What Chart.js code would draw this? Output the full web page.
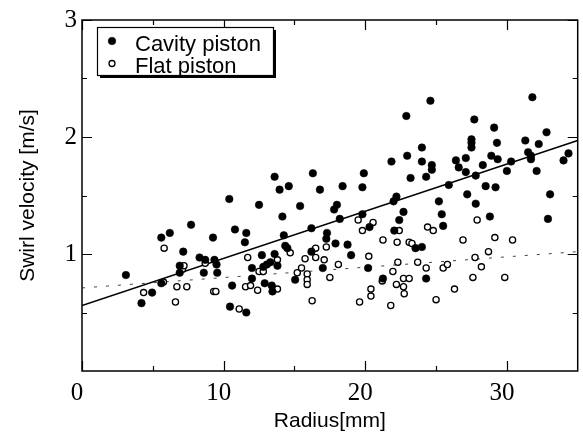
<!DOCTYPE html>
<html>
<head>
<meta charset="utf-8">
<script src="https://cdn.jsdelivr.net/npm/chart.js@4/dist/chart.umd.min.js"></script>
<style>
  html, body { margin: 0; padding: 0; background: #fff; }
  canvas { display: block; }
</style>
</head>
<body>
<canvas id="swirlChart" width="583" height="434"></canvas>
<script>
// Valores (radio en mm, velocidad en m/s)
const cavityRadius = [3.1, 4.2, 4.95, 5.6, 5.6, 6.2, 6.9, 6.9, 7.15, 7.7, 8.3, 8.7, 8.6, 9.25, 9.35, 9.5, 9.55,
  10.4, 10.45, 10.6, 10.8, 11.5, 11.6, 11.6, 12.0, 12.0, 12.5, 12.7, 12.8, 12.9, 13.05, 13.3, 13.4, 13.45,
  13.6, 13.6, 13.8, 13.95, 14.15, 14.25, 14.35, 14.5, 14.6, 15.05, 15.4, 16.2, 16.2, 16.3, 16.8, 17.0,
  17.3, 17.25, 17.8, 18.0, 17.9, 18.2, 18.4, 18.75, 19.0, 19.8, 19.9, 19.8, 20.2, 20.3, 21.25, 21.85,
  22.0, 22.2, 22.05, 22.4, 22.7, 22.9, 22.96, 23.2, 23.55, 24.0, 24.0, 24.0, 24.3, 24.3, 24.6, 24.7,
  24.7, 25.2, 25.4, 25.5, 25.9, 26.4, 26.6, 27.1, 27.1, 27.2, 27.5, 27.5, 27.5, 27.7, 27.8, 27.8, 28.3,
  28.5, 28.8, 28.9, 29.1, 29.2, 29.3, 29.35, 30.0, 30.3, 31.3, 31.5, 31.7, 31.7, 31.8, 32.1, 32.25,
  32.8, 32.9, 33.05, 34.0, 34.35];
const cavityVelocity = [0.82, 0.58, 0.67, 0.75, 1.14, 1.18, 0.90, 0.84, 1.02, 1.25, 0.97, 0.95, 0.84, 1.14, 0.95, 0.91, 0.84,
  1.47, 0.55, 0.73, 1.21, 1.10, 1.18, 0.50, 0.88, 0.79, 1.42, 0.99, 0.89, 0.75, 0.91, 0.93, 0.73, 0.68,
  1.00, 1.66, 0.90, 1.55, 1.32, 1.16, 1.07, 1.05, 1.58, 0.78, 1.41, 1.22, 1.02, 1.69, 1.55, 0.88,
  1.18, 1.13, 1.38, 1.42, 1.09, 1.30, 1.58, 1.08, 0.99, 1.57, 1.69, 1.34, 0.88, 1.23, 0.79, 1.79,
  1.45, 1.49, 1.20, 1.29, 1.36, 2.18, 1.84, 1.65, 1.05, 1.06, 1.91, 1.79, 1.66, 0.79, 2.31, 1.76,
  1.72, 1.45, 1.34, 1.24, 1.59, 1.80, 1.74, 1.82, 1.70, 1.51, 1.98, 1.95, 1.91, 2.15, 1.67, 1.43, 1.76,
  1.58, 1.32, 1.84, 2.08, 1.57, 1.95, 1.81, 1.71, 1.79, 1.97, 1.87, 1.84, 1.81, 2.34, 1.71, 1.94,
  2.04, 1.30, 1.51, 1.80, 1.86];

const flatRadius = [4.35, 5.75, 5.8, 6.6, 6.7, 7.1, 7.2, 7.4, 8.7, 9.3, 9.45, 11.1, 11.55, 11.7, 11.9, 12.4,
  12.5, 12.8, 13.8, 13.8, 14.7, 15.2, 15.5, 15.75, 15.9, 15.9, 15.9, 16.25, 16.5, 16.5, 17.1, 17.25, 17.5,
  18.1, 19.5, 19.6, 19.8, 20.25, 20.4, 20.4, 20.55, 21.2, 21.25, 21.8, 21.95, 22.2, 22.25, 22.3, 22.4,
  22.7, 22.7, 22.75, 23.1, 23.1, 23.3, 23.7, 24.3, 24.4, 24.8, 25.0, 25.5, 25.8, 26.3, 26.9, 27.6,
  27.75, 27.9, 28.2, 28.7, 29.15, 29.85, 30.4];
const flatVelocity = [0.67, 0.76, 1.05, 0.59, 0.72, 0.87, 0.90, 0.72, 0.92, 0.68, 0.68, 0.53, 0.72, 0.97, 0.73, 0.69,
  0.85, 0.85, 0.95, 0.70, 1.01, 0.84, 0.88, 0.96, 0.83, 0.78, 0.74, 0.60, 1.05, 0.97, 0.95, 1.06, 0.80,
  0.91, 1.29, 0.59, 1.20, 0.98, 0.70, 0.64, 1.27, 0.77, 1.12, 0.56, 0.85, 0.74, 1.10, 0.93, 1.20,
  0.79, 0.72, 0.66, 1.10, 0.79, 1.09, 0.93, 0.88, 1.23, 1.20, 0.61, 0.88, 0.91, 0.70, 1.12, 0.80,
  0.97, 1.29, 0.89, 1.02, 1.14, 0.80, 1.12];

// Rectas de ajuste (extremos)
const fitRadius = [0, 35];
const cavityFit = [0.56, 1.97];
const flatFit = [0.71, 1.02];

// Marcas de los ejes
const xTickLabels = [0, 10, 20, 30];
const xMinorTicks = [5, 15, 25];
const yTickLabels = [1, 2, 3];
const yMinorTicks = [0.5, 1.5, 2.5];

const legendLabels = ['Cavity piston', 'Flat piston'];

function toPoints(xs, ys) {
  return xs.map((x, i) => ({ x: x, y: ys[i] }));
}

// Marco completo con marcas hacia dentro en los cuatro lados
const framePlugin = {
  id: 'frame',
  afterDraw(chart) {
    const ctx = chart.ctx;
    const a = chart.chartArea;
    const xs = chart.scales.x, ys = chart.scales.y;
    ctx.save();
    ctx.strokeStyle = '#000';
    ctx.lineWidth = 1.5;
    ctx.strokeRect(a.left, a.top, a.right - a.left, a.bottom - a.top);
    ctx.lineWidth = 1.2;
    ctx.beginPath();
    const xMarks = xTickLabels.map(v => [v, 10]).concat(xMinorTicks.map(v => [v, 5]));
    xMarks.forEach(([v, len]) => {
      const px = Math.round(xs.getPixelForValue(v)) + 0.5;
      ctx.moveTo(px, a.bottom); ctx.lineTo(px, a.bottom - len);
      ctx.moveTo(px, a.top); ctx.lineTo(px, a.top + len);
    });
    const yMarks = yTickLabels.map(v => [v, 10]).concat(yMinorTicks.map(v => [v, 5]));
    yMarks.forEach(([v, len]) => {
      const py = Math.round(ys.getPixelForValue(v)) + 0.5;
      ctx.moveTo(a.left, py); ctx.lineTo(a.left + len, py);
      ctx.moveTo(a.right, py); ctx.lineTo(a.right - len, py);
    });
    ctx.stroke();
    ctx.restore();
  }
};

// Leyenda con recuadro y sombra dentro del área del gráfico
const boxLegend = {
  id: 'boxLegend',
  afterDraw(chart) {
    const ctx = chart.ctx;
    const a = chart.chartArea;
    const bx = a.left + 15, by = a.top + 7, bw = 176, bh = 48;
    ctx.save();
    ctx.fillStyle = '#000';
    ctx.fillRect(bx + 3, by + 3, bw, bh);
    ctx.fillStyle = '#fff';
    ctx.fillRect(bx, by, bw, bh);
    ctx.strokeStyle = '#000';
    ctx.lineWidth = 1.2;
    ctx.strokeRect(bx + 0.5, by + 0.5, bw, bh);

    ctx.font = '22px "Liberation Sans", Arial, sans-serif';
    ctx.textBaseline = 'alphabetic';
    ctx.fillStyle = '#000';
    legendLabels.forEach((txt, i) => {
      const ds = chart.data.datasets[i];
      const cy = by + 14 + i * 22.5;
      ctx.beginPath();
      ctx.arc(bx + 15, cy, i === 0 ? 3.8 : 3.0, 0, Math.PI * 2);
      ctx.fillStyle = ds.backgroundColor;
      ctx.fill();
      ctx.lineWidth = ds.borderWidth;
      ctx.strokeStyle = ds.borderColor;
      ctx.stroke();
      ctx.fillStyle = '#000';
      ctx.fillText(txt, bx + 38, cy + 9.5);
    });
    ctx.restore();
  }
};

const ctxSwirl = document.getElementById('swirlChart');
new Chart(ctxSwirl, {
  type: 'scatter',
  data: {
    datasets: [
      {
        label: legendLabels[0],
        data: toPoints(cavityRadius, cavityVelocity),
        pointRadius: 3.8,
        backgroundColor: '#000',
        borderColor: '#000',
        borderWidth: 0.5
      },
      {
        label: legendLabels[1],
        data: toPoints(flatRadius, flatVelocity),
        pointRadius: 3.1,
        backgroundColor: '#fff',
        borderColor: '#000',
        borderWidth: 1.3
      },
      {
        type: 'line',
        data: toPoints(fitRadius, cavityFit),
        borderColor: '#000',
        borderWidth: 1.5,
        pointRadius: 0,
        fill: false
      },
      {
        type: 'line',
        data: toPoints(fitRadius, flatFit),
        borderColor: '#444',
        borderWidth: 1,
        borderDash: [3, 9],
        pointRadius: 0,
        fill: false
      }
    ]
  },
  options: {
    responsive: false,
    devicePixelRatio: 1,
    animation: false,
    layout: { padding: { left: 0, right: 5, top: 18, bottom: 0 } },
    plugins: {
      legend: { display: false },
      tooltip: { enabled: false }
    },
    scales: {
      x: {
        type: 'linear',
        min: 0,
        max: 35,
        grid: { display: false, drawTicks: false },
        border: { display: false },
        afterBuildTicks: s => { s.ticks = xTickLabels.map(v => ({ value: v })); },
        afterFit: s => { s.height = 63; },
        ticks: {
          padding: 7,
          labelOffset: -5,
          color: '#000',
          font: { family: '"Liberation Serif", "Times New Roman", serif', size: 25 }
        },
        title: {
          display: true,
          text: 'Radius[mm]',
          color: '#000',
          padding: { top: 0, bottom: 0 },
          font: { family: '"Liberation Sans", Arial, sans-serif', size: 21 }
        }
      },
      y: {
        min: 0,
        max: 3,
        grid: { display: false, drawTicks: false },
        border: { display: false },
        afterBuildTicks: s => { s.ticks = yTickLabels.map(v => ({ value: v })); },
        afterFit: s => { s.width = 82; },
        ticks: {
          padding: 5,
          color: '#000',
          font: { family: '"Liberation Serif", "Times New Roman", serif', size: 25 }
        },
        title: {
          display: true,
          text: 'Swirl velocity [m/s]',
          color: '#000',
          padding: { top: 16, bottom: 0 },
          font: { family: '"Liberation Sans", Arial, sans-serif', size: 21 }
        }
      }
    }
  },
  plugins: [framePlugin, boxLegend]
});
</script>
</body>
</html>
